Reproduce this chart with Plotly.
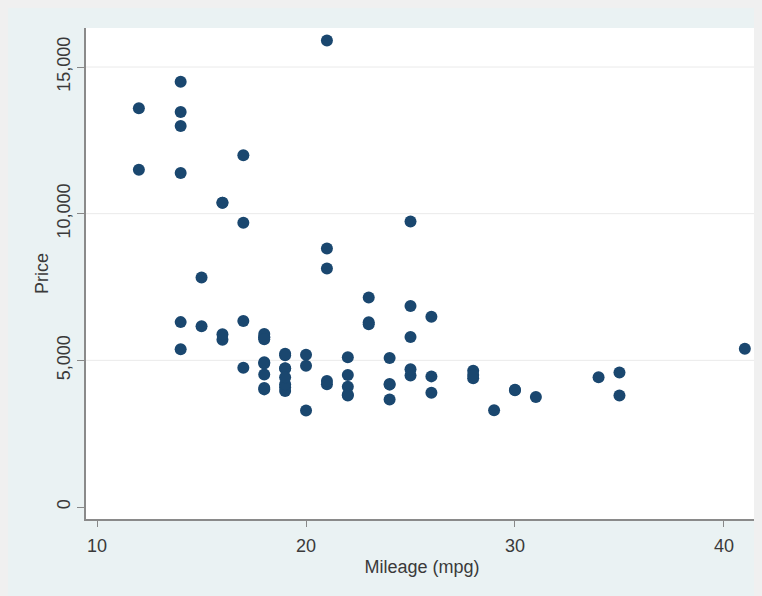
import plotly.graph_objects as go

mpg = [22, 17, 22, 20, 15, 18, 26, 20, 16, 19, 14, 14, 21, 29, 16, 22, 22, 24, 19, 30,
       18, 16, 17, 28, 21, 12, 12, 14, 22, 14, 15, 18, 14, 20, 21, 19, 19, 18, 19, 24,
       16, 28, 34, 25, 26, 18, 18, 18, 19, 19, 19, 24, 17, 23, 25, 23, 35, 24, 21, 21,
       25, 28, 30, 14, 26, 35, 18, 31, 18, 23, 41, 25, 25, 17]
price = [4099, 4749, 3799, 4816, 7827, 5788, 4453, 5189, 10372, 4082, 11385, 14500, 15906, 3299,
         5705, 4504, 5104, 3667, 3955, 3984, 4010, 5886, 6342, 4389, 4187, 11497, 13594, 13466,
         3829, 5379, 6165, 4516, 6303, 3291, 8814, 5172, 4733, 4890, 4181, 4195, 10371, 4647,
         4425, 4482, 6486, 4060, 5798, 4934, 5222, 4723, 4424, 4172, 9690, 6295, 9735, 6229,
         4589, 5079, 8129, 4296, 5799, 4499, 3995, 12990, 3895, 3798, 5899, 3748, 5719, 7140,
         5397, 4697, 6850, 11995]

x_ticks = [10, 20, 30, 40]
y_ticks = [0, 5000, 10000, 15000]
y_tick_text = ["0", "5,000", "10,000", "15,000"]
grid_vals = [5000, 10000, 15000]

W, H = 762, 596
ML, MR, MT, MB = 78, 12, 20, 85

fig = go.Figure()
fig.add_trace(go.Scatter(
    x=mpg, y=price, mode="markers",
    marker=dict(color="#1a476f", size=12, line=dict(width=0)),
    showlegend=False,
))

shapes = []
for g in grid_vals:
    shapes.append(dict(type="line", xref="paper", yref="y", x0=0, x1=1, y0=g, y1=g,
                       line=dict(color="#eaeaea", width=1), layer="below"))

fig.update_layout(
    width=W, height=H,
    margin=dict(l=ML, r=MR, t=MT, b=MB),
    paper_bgcolor="#eaf2f3",
    plot_bgcolor="#ffffff",
    font=dict(family="Liberation Sans, Arial, sans-serif", size=18, color="#3a3a3a"),
    shapes=shapes,
    xaxis=dict(
        range=[9.47, 41.63], tickvals=x_ticks, ticks="outside", ticklen=6,
        tickcolor="#888888", showgrid=False, zeroline=False,
        showline=True, linecolor="#8a8a8a", linewidth=2,
        tickfont=dict(size=18), ticklabelstandoff=3,
        title=dict(text="Mileage (mpg)", standoff=6, font=dict(size=18)),
    ),
    yaxis=dict(
        range=[-409, 16330], tickvals=y_ticks, ticktext=y_tick_text, tickangle=-90,
        ticks="outside", ticklen=7, tickcolor="#888888",
        showgrid=False, zeroline=False,
        showline=True, linecolor="#8a8a8a", linewidth=2,
        tickfont=dict(size=18),
        title=dict(text="Price", standoff=0, font=dict(size=18)),
    ),
)

fig.write_html("out.html", post_script="document.body.style.background='#f0f0f0';")
